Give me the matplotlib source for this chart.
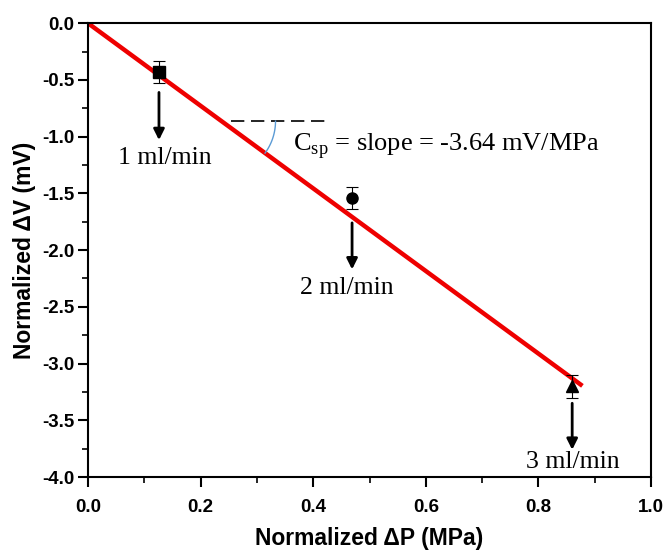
import numpy as np
import matplotlib
matplotlib.use("Agg")
import matplotlib.pyplot as plt
from matplotlib.ticker import MultipleLocator, FormatStrFormatter

plt.rcParams["mathtext.fontset"] = "custom"
plt.rcParams["mathtext.rm"] = "Liberation Serif"

# measured points (normalized pressure vs. voltage) for each flow rate
dp = [0.126, 0.469, 0.86]
dv = [-0.43, -1.54, -3.20]
dv_err = [0.10, 0.10, 0.10]
markers = ["s", "o", "^"]
flow_labels = ["1 ml/min", "2 ml/min", "3 ml/min"]

# linear fit through the origin
slope = -3.64
fit_x = [0.0, 0.875]

serif = "Liberation Serif"
sans = "Liberation Sans"

fig = plt.figure(figsize=(6.67, 5.53), dpi=100)
ax = fig.add_axes([0.132, 0.1374, 0.844, 0.8206])

ax.plot(fit_x, [slope * x for x in fit_x], color="#ee0000", lw=3.2, zorder=2)

for x, y, e, m in zip(dp, dv, dv_err, markers):
    ax.errorbar(x, y, yerr=e, fmt=m, color="black", ms=8 if m != "^" else 9,
                ecolor="black", elinewidth=0.8, capsize=4, capthick=0.8, zorder=3)

# arrows pointing down to the flow-rate labels
arrow_spans = [(-0.61, -1.03), (-1.76, -2.17), (-3.35, -3.76)]
label_pos = [(0.137, -1.19), (0.459, -2.33), (0.862, -3.87)]
for x, (y0, y1), (tx, ty), lab in zip(dp, arrow_spans, label_pos, flow_labels):
    ax.annotate("", xy=(x, y1), xytext=(x, y0),
                arrowprops=dict(arrowstyle="-|>", color="black", lw=2,
                                mutation_scale=16, shrinkA=0, shrinkB=0))
    ax.text(tx, ty, lab, family=serif, fontsize=18.5, ha="center", va="center")

# slope indicator: dashed horizontal reference and angle arc
y_ref = -0.863
ax.plot([0.254, 0.425], [y_ref, y_ref], ls=(0, (8, 4)), color="black", lw=1.2)

ax.set_xlim(0, 1.0)
ax.set_ylim(-4.0, 0.0)
fig.canvas.draw()
px_x = ax.transData.transform((1, 0))[0] - ax.transData.transform((0, 0))[0]
px_y = ax.transData.transform((0, 0))[1] - ax.transData.transform((0, -1))[1]
x_c = y_ref / slope
ang = np.arctan(slope * px_y / px_x)
t = np.linspace(ang, 0, 40)
r = 54
ax.plot(x_c + r * np.cos(t) / px_x, y_ref + r * np.sin(t) / px_y,
        color="#5b9bd5", lw=1)

ax.text(0.364, -1.08, r"C$_{\rm sp}$ = slope = -3.64 mV/MPa", family=serif,
        fontsize=19, ha="left", va="center")

ax.xaxis.set_major_locator(MultipleLocator(0.2))
ax.xaxis.set_minor_locator(MultipleLocator(0.1))
ax.yaxis.set_major_locator(MultipleLocator(0.5))
ax.yaxis.set_minor_locator(MultipleLocator(0.25))
ax.tick_params(which="major", direction="out", length=7, width=1.5)
ax.tick_params(which="minor", direction="out", length=4, width=1.2)
ax.tick_params(axis="x", which="major", pad=9)
ax.tick_params(axis="y", which="major", pad=3)
ax.xaxis.set_major_formatter(FormatStrFormatter("%.1f"))
ax.yaxis.set_major_formatter(FormatStrFormatter("%.1f"))
for lab in ax.get_xticklabels() + ax.get_yticklabels():
    lab.set_family(sans)
    lab.set_fontweight("bold")
    lab.set_fontsize(13.5)

for s in ax.spines.values():
    s.set_linewidth(1.5)

ax.set_xlabel("Normalized ΔP (MPa)", family=sans, fontweight="bold", fontsize=16.5, labelpad=8)
ax.set_ylabel("Normalized ΔV (mV)", family=sans, fontweight="bold", fontsize=16.5, labelpad=4)

fig.savefig("out.png", dpi=100)
